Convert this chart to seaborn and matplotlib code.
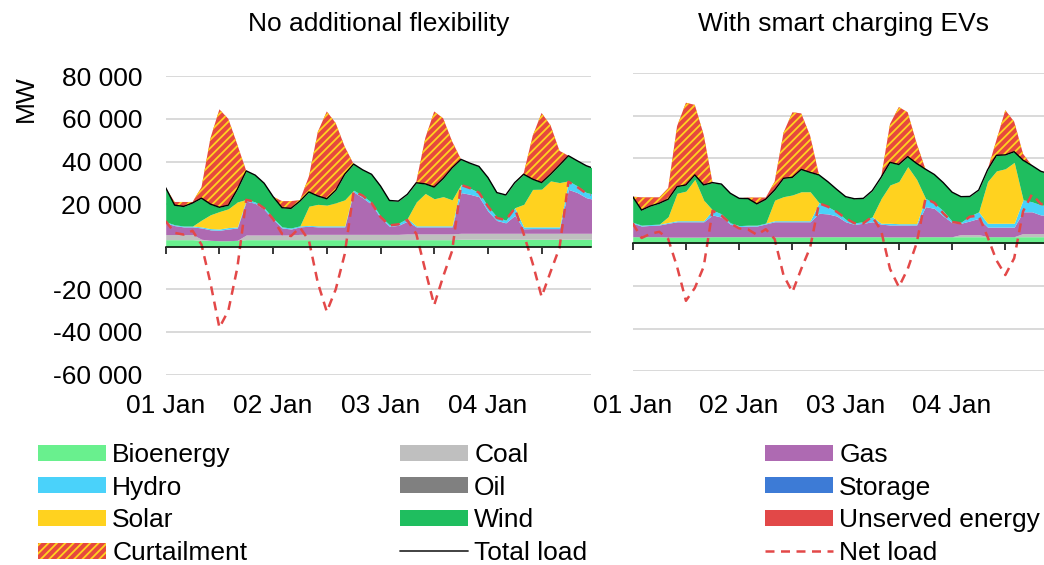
import numpy as np
import pandas as pd
import matplotlib
matplotlib.use("Agg")
import matplotlib.pyplot as plt
from matplotlib.patches import Patch
from matplotlib.lines import Line2D
import seaborn as sns

# ---------------- data (MW), every 2 hours from 01 Jan 00:00 ----------------
hours = list(range(0, 97, 2))

# Panel 1: No additional flexibility
L_bio = [3300, 3300, 3300, 3300, 3000, 3000, 2800, 2800, 3000] + [3300] * 24 + [3500] * 16
L_coal = [2400, 2400, 2400, 2400, 500, 0, 0, 0, 0, 2200, 2200, 2200, 2200, 2200, 2200,
          2500, 2500, 2500, 2500, 2500, 2500, 2500, 2500, 2500, 2500, 2500, 2500,
          2700, 2700, 2700, 2700, 2700, 2700] + [2800] * 16
L_gas = [5500, 4200, 3600, 3600, 5300, 4900, 4900, 5500, 5800, 15900, 14800, 12000, 7300,
         3300, 2800, 3500, 3800, 3500, 3500, 3500, 3500, 19900, 17200, 14100, 7800, 3800,
         4200, 6000, 3300, 3300, 3300, 3300, 3300, 19100, 18300, 17200, 10400, 6000, 4900,
         8400, 2100, 2200, 2200, 2200, 2200, 20600, 19100, 16700, 15700]
L_hydro = [500, 400, 400, 400, 500, 600, 600, 700, 500, 800, 700, 800, 600, 500, 500, 500,
           400, 500, 500, 500, 500, 800, 1000, 900, 700, 700, 1000, 1300, 500, 500, 500,
           500, 500, 3900, 2900, 1900, 2300, 1700, 1200, 3600, 900, 800, 800, 800, 800,
           4000, 3100, 2400, 2500]
L_solar = [0, 0, 0, 0, 3200, 6500, 8200, 8800, 11700, 0, 0, 0, 0, 0, 0, 0,
           9000, 10100, 9700, 10800, 12200, 0, 0, 0, 0, 0, 0, 0,
           11200, 15200, 12700, 13700, 12200, 0, 0, 0, 0, 0, 0, 0,
           10600, 17600, 17700, 21600, 20800, 0, 0, 0, 0]
L_wind = [16000, 9200, 9200, 10800, 10300, 5000, 2000, 1700, 5900, 13400, 12600, 11500,
          10100, 9000, 9200, 11600, 6700, 3900, 3000, 5900, 12000, 12300, 12100, 13200,
          14200, 11400, 10400, 11300, 9000, 4500, 5500, 8500, 15000, 11700, 11700, 12300,
          13500, 11400, 11900, 11800, 14100, 4800, 3100, 3100, 8200, 11800, 11800, 12600, 12000]
L_curt = [0, 1500, 2100, 500, 5200, 31000, 46000, 40500, 21100, 0, 0, 0, 0, 3100, 3400, 500,
          7300, 30200, 41000, 31500, 13000, 0, 0, 0, 0, 0, 0, 0,
          500, 21500, 35500, 28300, 12500, 0, 0, 0, 0, 0, 0, 0,
          500, 20300, 32700, 23000, 6700, 0, 0, 0, 0]
L_net = [12000, 6500, 5700, 7500, 1000, -17000, -38000, -30000, -10000, 22000, 21000, 18000,
         13000, 6000, 5000, 9000, 3000, -17000, -30500, -20000, -3500, 26000, 24000, 20500,
         14000, 10000, 10500, 12500, 6000, -11000, -27400, -14000, -2000, 29000, 27500, 25400,
         19000, 13500, 12500, 18000, 6000, -7800, -23500, -11800, -500, 30500, 28000, 25000, 24000]

# Panel 2: With smart charging EVs
R_bio = [3100] * 4 + [2900] * 5 + [3100] * 7 + [3000] * 5 + [3100] * 7 + [3100] + [3000] * 4 + [3100] * 16
R_coal = [0] * 37 + [1000, 1000, 1000, 0, 0, 0, 0] + [1500] * 5
R_gas = [6300, 5000, 5300, 5500, 6500, 7200, 7200, 7200, 7200, 10200, 9200, 5900, 4700, 5000,
         5000, 6000, 7100, 7100, 7100, 7100, 7100, 11000, 10700, 9700, 7000, 5800, 6300, 7000,
         5900, 5600, 5600, 5600, 5600, 14100, 13300, 9700, 6600, 5300, 6400, 7600, 4500, 4500,
         4500, 4500, 10200, 10200, 8700, 8500, 8500]
R_hydro = [500, 400, 400, 400, 400, 500, 500, 500, 500, 2300, 1500, 600, 500, 400, 400, 400,
           500, 500, 500, 500, 500, 5000, 3400, 2000, 1200, 700, 700, 2400, 400, 800, 600, 600,
           600, 3900, 2400, 2500, 600, 500, 2300, 3100, 1800, 1800, 1800, 1800, 5700, 4700,
           4700, 4500, 4500]
R_solar = [0, 0, 0, 0, 2700, 12900, 13900, 19400, 9700, 0, 0, 0, 0, 0, 0, 0,
           9700, 11300, 12100, 13600, 13600, 0, 0, 0, 0, 0, 0, 0,
           11600, 18000, 19800, 26800, 20800, 0, 0, 0, 0, 0, 0, 0,
           19600, 24600, 25600, 28600, 0, 0, 0, 0, 0]
R_wind = [12000, 7100, 8700, 9800, 8200, 3100, 2900, 2100, 7100, 12900, 14000, 13900, 12800,
          12500, 10000, 11200, 4700, 8600, 8300, 10500, 9100, 13000, 11700, 10500, 10600,
          11300, 11000, 12200, 10000, 10600, 8000, 4700, 7500, 13700, 13500, 13200, 13700,
          12000, 9200, 10200, 5500, 7300, 6500, 5000, 18500, 17000, 15800, 15000, 15000]
R_curt = [0, 6000, 4100, 2800, 5300, 28400, 38600, 32900, 23600, 0, 0, 0, 0, 500, 3000, 800,
          4000, 21500, 30500, 26300, 17200, 0, 0, 0, 0, 0, 0, 0,
          0, 18000, 27000, 20800, 9500, 0, 0, 0, 0, 0, 0, 0,
          0, 7200, 21000, 14100, 3000, 0, 0, 0, 0]
R_net = [9400, 2500, 4500, 5400, 2000, -11000, -27000, -21000, -11000, 15300, 13000, 9400,
         7000, 6500, 4000, 6600, 2000, -15000, -22900, -12000, -2000, 18800, 17200, 14800,
         11700, 9400, 9400, 12500, 6000, -12000, -20500, -12000, 0, 21000, 19000, 14100,
         10000, 9400, 12500, 13000, 3000, -8000, -14900, -7000, 15000, 23000, 18500, 18000, 18000]

zeros = [0] * len(hours)
titles = ["No additional flexibility", "With smart charging EVs"]
tick_hours = list(range(0, 96, 12))
label_hours = [0, 24, 48, 72]
day_labels = ["01 Jan", "02 Jan", "03 Jan", "04 Jan"]
y_ticks = [-60000, -40000, -20000, 0, 20000, 40000, 60000, 80000]
y_labels = ["-60 000", "-40 000", "-20 000", "", "20 000", "40 000", "60 000", "80 000"]

# ---------------- style ----------------
C = dict(bio="#69F08E", coal="#BFBFBF", gas="#AE6AB2", hydro="#4AD2FA", oil="#808080",
         storage="#3D7BD6", solar="#FFD21F", wind="#1FBE5F", unserved="#E24848",
         curt="#E6483E", net="#E34848", grid="#D9D9D9")

sns.set_theme(style="white")
plt.rcParams["font.family"] = ["Liberation Sans", "DejaVu Sans"]
plt.rcParams["hatch.linewidth"] = 1.3
FS = 19

fig = plt.figure(figsize=(10.44, 5.65), dpi=100)
W, H = 1044.0, 565.0
ax1 = fig.add_axes([165.7 / W, (H - 374.5) / H, 95 * 4.475 / W, 298.2 / H])
ax2 = fig.add_axes([632.7 / W, (H - 371.1) / H, 95 * 4.436 / W, 298.2 / H])

panels = [
    (ax1, L_bio, L_coal, L_gas, L_hydro, L_solar, L_wind, L_curt, L_net),
    (ax2, R_bio, R_coal, R_gas, R_hydro, R_solar, R_wind, R_curt, R_net),
]

for i, (ax, bio, coal, gas, hydro, solar, wind, curt, net) in enumerate(panels):
    df = pd.DataFrame(dict(hour=hours, bio=bio, coal=coal, gas=gas, hydro=hydro, oil=zeros,
                           storage=zeros, solar=solar, wind=wind, unserved=zeros,
                           curt=curt, net=net))
    layers = ["bio", "coal", "gas", "hydro", "oil", "storage", "solar", "wind", "unserved"]
    ax.stackplot(df["hour"], *[df[k] for k in layers], colors=[C[k] for k in layers],
                 linewidth=0, zorder=1)
    df["load"] = df[layers].sum(axis=1)
    ax.fill_between(df["hour"], df["load"], df["load"] + df["curt"], facecolor=C["curt"],
                    edgecolor=C["solar"], hatch="////", linewidth=0, zorder=1)
    sns.lineplot(data=df, x="hour", y="load", ax=ax, color="black", linewidth=1.0,
                 legend=False, zorder=3)
    sns.lineplot(data=df, x="hour", y="net", ax=ax, color=C["net"], linewidth=1.8,
                 linestyle=(0, (3.6, 2.6)), legend=False, zorder=3)

    ax.set_xlim(0, 95)
    ax.set_ylim(-60000, 80000)
    ax.set_xlabel("")
    ax.set_ylabel("")
    ax.set_axisbelow(True)
    ax.yaxis.grid(True, color=C["grid"], linewidth=1.4)
    ax.xaxis.grid(False)
    for s in ["left", "right", "top"]:
        ax.spines[s].set_visible(False)
    ax.spines["bottom"].set_position(("data", 0))
    ax.spines["bottom"].set_color("black")
    ax.spines["bottom"].set_linewidth(1.1)
    ax.spines["bottom"].set_zorder(4)
    ax.set_xticks(tick_hours)
    ax.tick_params(axis="x", direction="out", length=5, width=1.1, color="black",
                   labelbottom=False, bottom=True)
    if i == 0:
        ax.set_yticks(y_ticks, labels=y_labels)
        ax.tick_params(axis="y", length=0, pad=17, labelsize=FS, labelcolor="black")
        ax.set_ylabel("MW", fontsize=FS, color="black")
        ax.yaxis.set_label_coords(-0.300, 0.925)
    else:
        ax.set_yticks(y_ticks, labels=[""] * len(y_ticks))
        ax.tick_params(axis="y", length=0)

    loc = -0.066 if i == 0 else -0.077
    sec = ax.secondary_xaxis(loc)
    sec.set_xticks(label_hours, labels=day_labels)
    sec.tick_params(length=0, pad=0, labelsize=FS, labelcolor="black")
    for s in sec.spines.values():
        s.set_visible(False)

    pad = 32.6 if i == 0 else 30.2
    ax.set_title(titles[i], fontsize=FS, color="black", pad=pad)

# ---------------- legend (three columns) ----------------
def P(c):
    return Patch(facecolor=c, edgecolor="none", linewidth=0)

cols = [
    ([P(C["bio"]), P(C["hydro"]), P(C["solar"]),
      Patch(facecolor=C["curt"], edgecolor=C["solar"], hatch="////", linewidth=0)],
     ["Bioenergy", "Hydro", "Solar", "Curtailment"], 38),
    ([P(C["coal"]), P(C["oil"]), P(C["wind"]),
      Line2D([], [], color="#333333", linewidth=1.3)],
     ["Coal", "Oil", "Wind", "Total load"], 400),
    ([P(C["gas"]), P(C["storage"]), P(C["unserved"]),
      Line2D([], [], color=C["net"], linewidth=1.8, linestyle=(0, (3.6, 2.6)))],
     ["Gas", "Storage", "Unserved energy", "Net load"], 765),
]
for handles, labels, xpx in cols:
    fig.legend(handles, labels, loc="upper left", bbox_to_anchor=(xpx / W, 1 - 443 / H),
               frameon=False, borderpad=0, borderaxespad=0, handlelength=2.58,
               handleheight=0.55, handletextpad=0.23, labelspacing=0.33, fontsize=FS,
               labelcolor="black")

fig.savefig("out.png", dpi=100)
